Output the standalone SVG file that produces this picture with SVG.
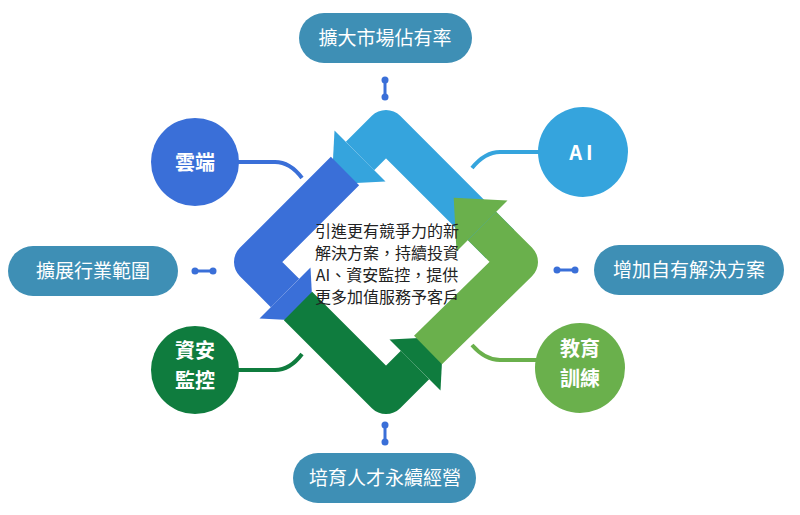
<svg xmlns="http://www.w3.org/2000/svg" width="800" height="515" viewBox="0 0 800 515">
<style>
.pill{fill:#3e8fb5}
.pt{font-family:"Noto Sans CJK TC","Noto Sans CJK SC",sans-serif;font-size:19px;fill:#fff;text-anchor:middle}
.ct{font-family:"Noto Sans CJK TC","Noto Sans CJK SC",sans-serif;font-size:20px;font-weight:bold;fill:#fff;text-anchor:middle}
.band{fill:none;stroke-width:40;stroke-linejoin:round}
.lk{fill:none;stroke-width:4}
.dot{stroke:#3a6fd8;stroke-width:3;fill:none}
</style>
<rect width="800" height="515" fill="#fff"/>
<g id="connectors">
<path class="lk" stroke="#3a6fd8" d="M238,162 H275 Q290,162 302,178"/>
<path class="lk" stroke="#35a4dd" d="M540,152 H500 Q485,152 472,168"/>
<path class="lk" stroke="#0f7c3e" d="M238,370 H275 Q290,370 302,354"/>
<path class="lk" stroke="#6ab04c" d="M538,360 H500 Q485,360 472,345"/>
<g class="dot"><line x1="385" y1="80" x2="385" y2="97"/><line x1="195" y1="271" x2="213" y2="271"/><line x1="557" y1="270" x2="575" y2="270"/><line x1="385" y1="425" x2="385" y2="442"/></g>
<g fill="#3a6fd8"><circle cx="385" cy="80" r="3.5"/><circle cx="385" cy="97" r="3.5"/><circle cx="195" cy="271" r="3.5"/><circle cx="213" cy="271" r="3.5"/><circle cx="557" cy="270" r="3.5"/><circle cx="575" cy="270" r="3.5"/><circle cx="385" cy="425" r="3.5"/><circle cx="385" cy="442" r="3.5"/></g>
</g>
<g id="cycle">
<path class="band" stroke="#35a4dd" d="M500,244 L386,130 L360,156"/>
<polygon fill="#35a4dd" points="334.5,130.5 385.5,181.5 331.7,184.3"/>
<path class="band" stroke="#3a6fd8" d="M345,171 L254,262 L285,293"/>
<polygon fill="#3a6fd8" points="259.5,318.5 310.5,267.5 313.3,321.3"/>
<path class="band" stroke="#0f7c3e" d="M298,306 L386,394 L415,365"/>
<polygon fill="#0f7c3e" points="389.5,339.5 440.5,390.5 443.3,336.7"/>
<path class="band" stroke="#6ab04c" d="M428,350 L518,262 L482,226"/>
<polygon fill="#6ab04c" points="507.5,200.5 456.5,251.5 453.7,197.7"/>
</g>
<g id="center" font-family="Noto Sans CJK TC,Noto Sans CJK SC,sans-serif" font-size="16" fill="#222" text-anchor="middle">
<text x="387" y="237">引進更有競爭力的新</text>
<text x="387" y="259">解決方案，持續投資</text>
<text x="387" y="281">AI、資安監控，提供</text>
<text x="387" y="303">更多加值服務予客戶</text>
</g>
<g id="n-top"><rect class="pill" x="299" y="13" width="173" height="50" rx="25"/><text class="pt" x="385" y="45">擴大市場佔有率</text></g>
<g id="n-left"><rect class="pill" x="8" y="246" width="170" height="50" rx="25"/><text class="pt" x="93" y="278">擴展行業範圍</text></g>
<g id="n-right"><rect class="pill" x="594" y="245" width="190" height="50" rx="25"/><text class="pt" x="689" y="277">增加自有解決方案</text></g>
<g id="n-bottom"><rect class="pill" x="293" y="453" width="183" height="50" rx="25"/><text class="pt" x="385" y="485">培育人才永續經營</text></g>
<g id="c-cloud"><circle cx="195" cy="162" r="44" fill="#3a6fd8"/><text class="ct" x="195" y="170">雲端</text></g>
<g id="c-ai"><circle cx="583" cy="152" r="45" fill="#35a4dd"/><text class="ct" x="583" y="160" letter-spacing="4">AI</text></g>
<g id="c-sec"><circle cx="195" cy="370" r="44" fill="#0f7c3e"/><text class="ct" x="195" y="358">資安</text><text class="ct" x="195" y="388">監控</text></g>
<g id="c-edu"><circle cx="580" cy="368" r="45" fill="#6ab04c"/><text class="ct" x="580" y="356">教育</text><text class="ct" x="580" y="386">訓練</text></g>
</svg>
